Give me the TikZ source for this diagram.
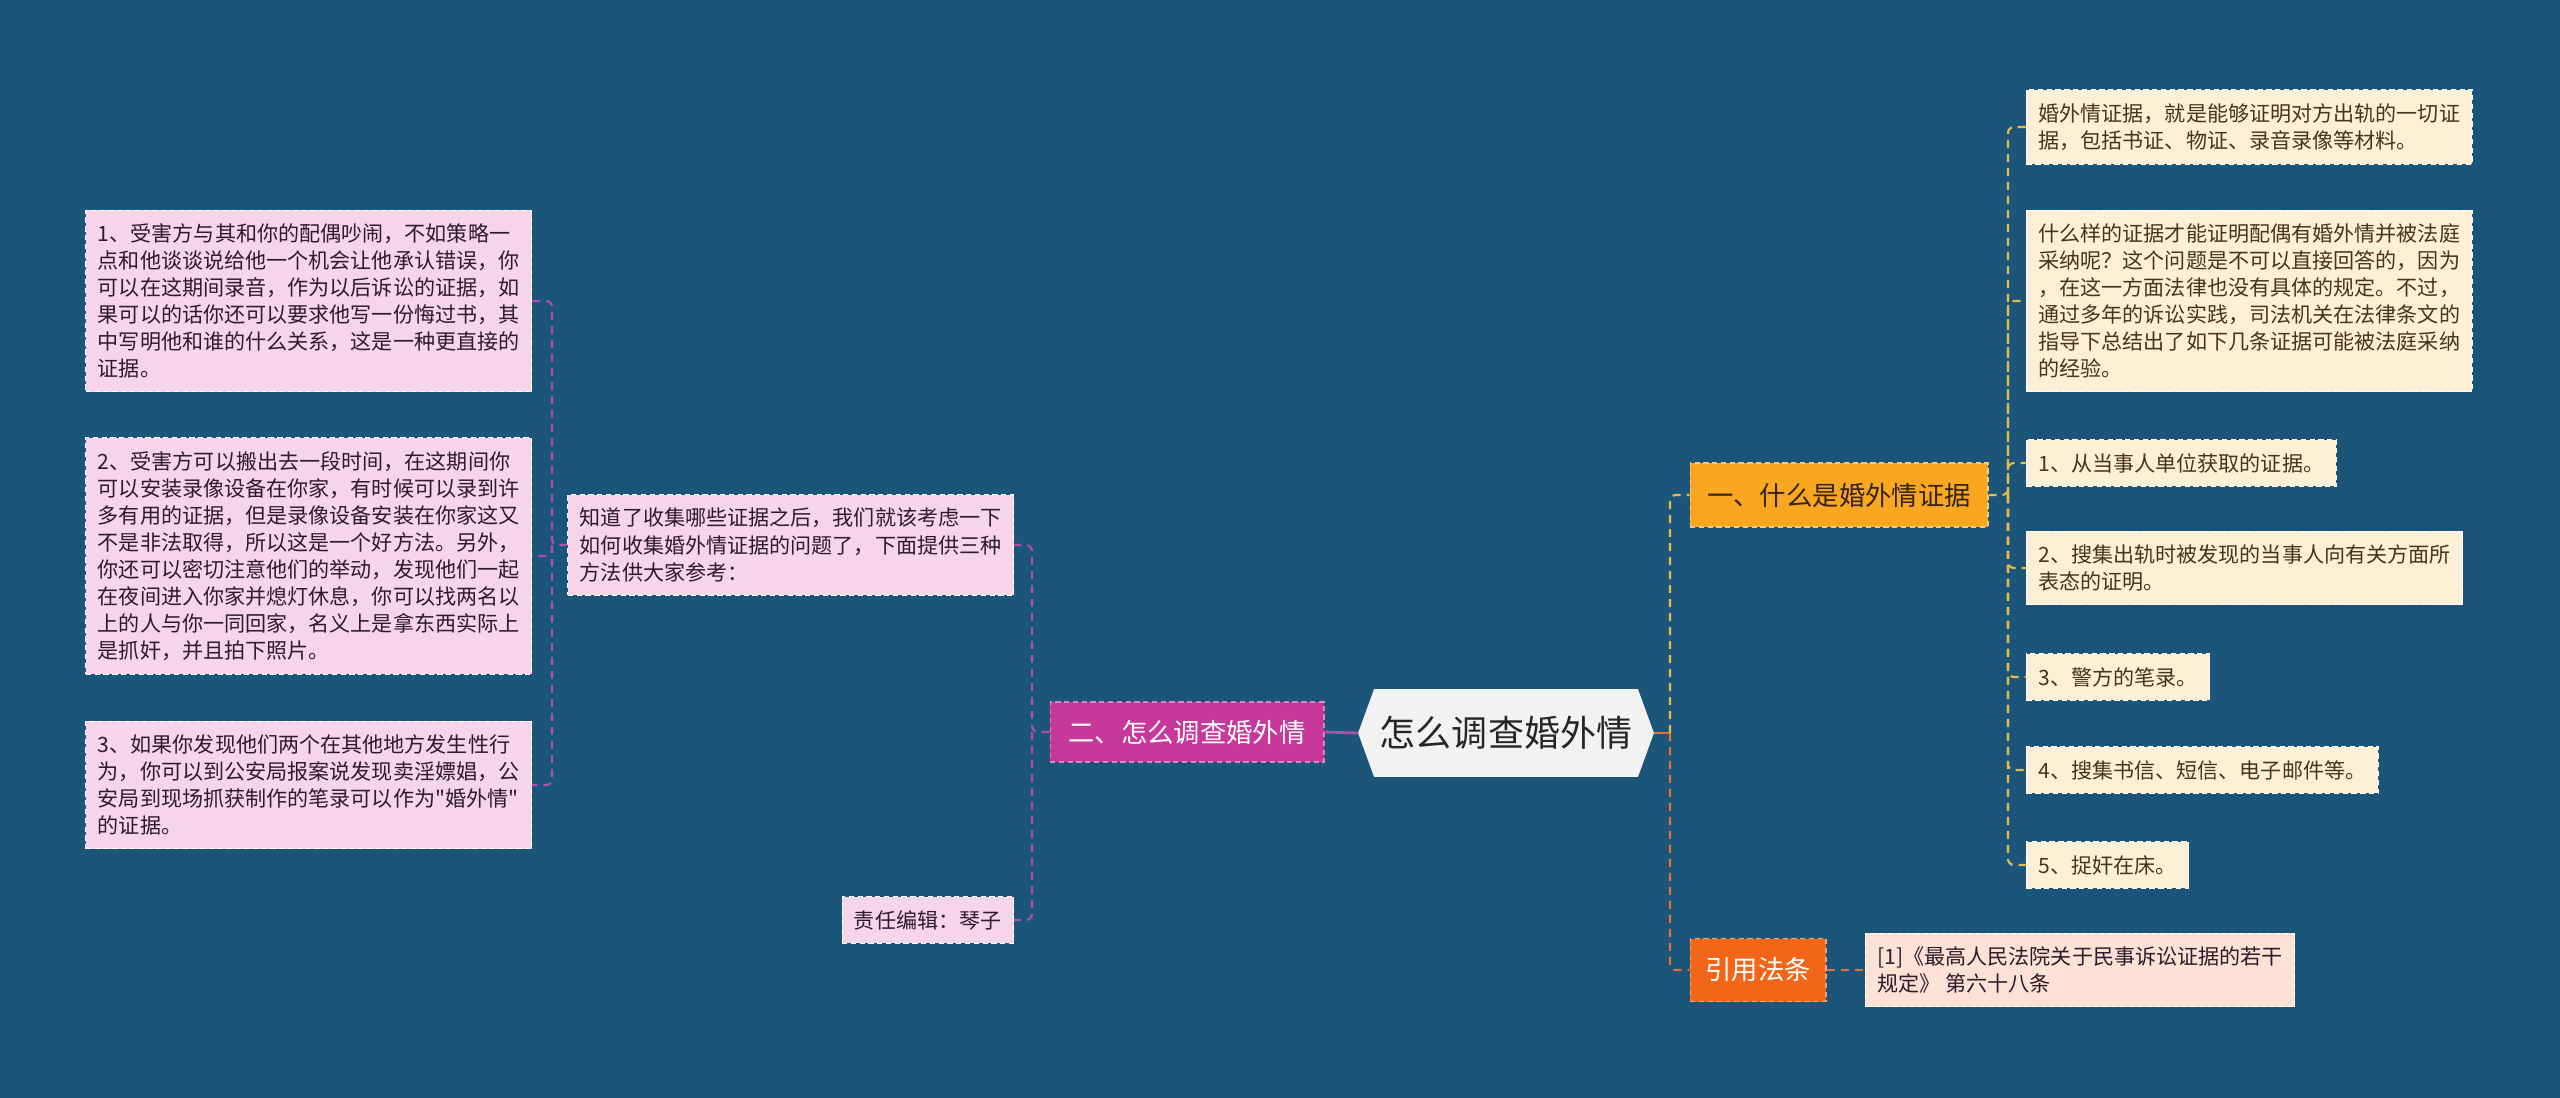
\documentclass[tikz,border=0pt]{standalone}
\usepackage{fontspec}
\setmainfont{Noto Sans CJK SC}[Ligatures=TeXOff]
\usetikzlibrary{shapes.symbols}

\definecolor{fond}{HTML}{1B5579}
\definecolor{magenta2}{HTML}{C8379A}
\definecolor{ambre}{HTML}{F9A620}
\definecolor{orangevif}{HTML}{F2661A}
\definecolor{roseclair}{HTML}{F6D5EA}
\definecolor{cremeclair}{HTML}{FDF0D7}
\definecolor{peche}{HTML}{FDE1D4}
\definecolor{lienrose}{HTML}{B04EAE}
\definecolor{lienjaune}{HTML}{E8BC4C}
\definecolor{lienorange}{HTML}{E0723A}
\definecolor{texterose}{HTML}{2D1A2A}
\definecolor{textecreme}{HTML}{4A3418}

\begin{document}
\begin{tikzpicture}[x=0.02cm,y=-0.02cm,
  feuille/.style={draw=white, dash pattern=on 3pt off 2pt, line width=0.5pt,
    inner xsep=0.24cm, inner ysep=0.27cm, align=left,
    font=\fontsize{12}{15.4}\selectfont},
  rose/.style={feuille, fill=roseclair, text=texterose},
  creme/.style={feuille, fill=cremeclair, text=textecreme},
  titre/.style={dash pattern=on 3pt off 2pt, line width=0.6pt,
    font=\fontsize{15}{18}\selectfont},
  branche/.style={dash pattern=on 0.16cm off 0.12cm, line width=1.2pt, rounded corners=0.12cm}]

      %Fond
      \fill[fond] (0,0) rectangle (2560,1098);

      %Noeud central
      \node[signal, signal to=west and east, signal pointer angle=140, fill=black!5,
        text=black!85, minimum width=5.84cm, minimum height=1.76cm,
        font=\fontsize{20.5}{24}\selectfont] (Racine) at (1506,733) {怎么调查婚外情};

      %Branches principales
      \node[titre, fill=magenta2, draw=magenta2!60!white, text=white,
        minimum width=5.48cm, minimum height=1.2cm] (Deux) at (1187,732) {二、怎么调查婚外情};
      \node[titre, fill=ambre, draw=ambre!60!white, text=textecreme!70!black,
        minimum width=5.96cm, minimum height=1.28cm] (Un) at (1839,495) {一、什么是婚外情证据};
      \node[titre, fill=orangevif, draw=orangevif!60!white, text=white,
        minimum width=2.72cm, minimum height=1.26cm] (Loi) at (1758,970) {引用法条};

      %Côté gauche
      \node[rose, anchor=east] (Methode) at (1014,545) {知道了收集哪些证据之后，我们就该考虑一下\\如何收集婚外情证据的问题了，下面提供三种\\方法供大家参考：};
      \node[rose, anchor=east] (Editeur) at (1014,920) {责任编辑：琴子};

      \node[rose, anchor=east] (Preuve1) at (532,301) {1、受害方与其和你的配偶吵闹，不如策略一\\点和他谈谈说给他一个机会让他承认错误，你\\可以在这期间录音，作为以后诉讼的证据，如\\果可以的话你还可以要求他写一份悔过书，其\\中写明他和谁的什么关系，这是一种更直接的\\证据。};
      \node[rose, anchor=east] (Preuve2) at (532,556) {2、受害方可以搬出去一段时间，在这期间你\\可以安装录像设备在你家，有时候可以录到许\\多有用的证据，但是录像设备安装在你家这又\\不是非法取得，所以这是一个好方法。另外，\\你还可以密切注意他们的举动，发现他们一起\\在夜间进入你家并熄灯休息，你可以找两名以\\上的人与你一同回家，名义上是拿东西实际上\\是抓奸，并且拍下照片。};
      \node[rose, anchor=east] (Preuve3) at (532,785) {3、如果你发现他们两个在其他地方发生性行\\为，你可以到公安局报案说发现卖淫嫖娼，公\\安局到现场抓获制作的笔录可以作为"婚外情"\\的证据。};

      %Côté droit
      \node[creme, anchor=west] (Def) at (2026,127) {婚外情证据，就是能够证明对方出轨的一切证\\据，包括书证、物证、录音录像等材料。};
      \node[creme, anchor=west] (Question) at (2026,301) {什么样的证据才能证明配偶有婚外情并被法庭\\采纳呢？这个问题是不可以直接回答的，因为\\，在这一方面法律也没有具体的规定。不过，\\通过多年的诉讼实践，司法机关在法律条文的\\指导下总结出了如下几条证据可能被法庭采纳\\的经验。};
      \node[creme, anchor=west] (Source1) at (2026,463) {1、从当事人单位获取的证据。};
      \node[creme, anchor=west] (Source2) at (2026,568) {2、搜集出轨时被发现的当事人向有关方面所\\表态的证明。};
      \node[creme, anchor=west] (Source3) at (2026,677) {3、警方的笔录。};
      \node[creme, anchor=west] (Source4) at (2026,770) {4、搜集书信、短信、电子邮件等。};
      \node[creme, anchor=west] (Source5) at (2026,865) {5、捉奸在床。};

      \node[feuille, fill=peche, text=texterose, anchor=west] (Article) at (1865,970) {[1]《最高人民法院关于民事诉讼证据的若干\\规定》 第六十八条};

      %Troncs
      \coordinate (troncG) at (1032,732);
      \coordinate (troncM) at (552,545);
      \coordinate (troncD) at (1670,733);
      \coordinate (troncR) at (2008,495);

      %Liens
      \draw[lienrose, line width=1.6pt] (Racine.west) -- (Deux.east);
      \draw[branche, lienrose] (Deux.west) -- (troncG) |- (Methode.east);
      \draw[branche, lienrose] (troncG) |- (Editeur.east);
      \draw[branche, lienrose] (Methode.west) -- (troncM) |- (Preuve1.east);
      \draw[branche, lienrose] (troncM) |- (Preuve2.east);
      \draw[branche, lienrose] (troncM) |- (Preuve3.east);

      \draw[lienorange, line width=1.6pt] (Racine.east) -- (troncD);
      \draw[branche, lienjaune] (troncD) |- (Un.west);
      \draw[branche, lienorange] (troncD) |- (Loi.west);
      \draw[branche, lienorange] (Loi.east) -- (Article.west);

      \draw[branche, lienjaune] (Un.east) -- (troncR) |- (Def.west);
      \draw[branche, lienjaune] (troncR) |- (Question.west);
      \draw[branche, lienjaune] (troncR) |- (Source1.west);
      \draw[branche, lienjaune] (troncR) |- (Source2.west);
      \draw[branche, lienjaune] (troncR) |- (Source3.west);
      \draw[branche, lienjaune] (troncR) |- (Source4.west);
      \draw[branche, lienjaune] (troncR) |- (Source5.west);
\end{tikzpicture}
\end{document}
